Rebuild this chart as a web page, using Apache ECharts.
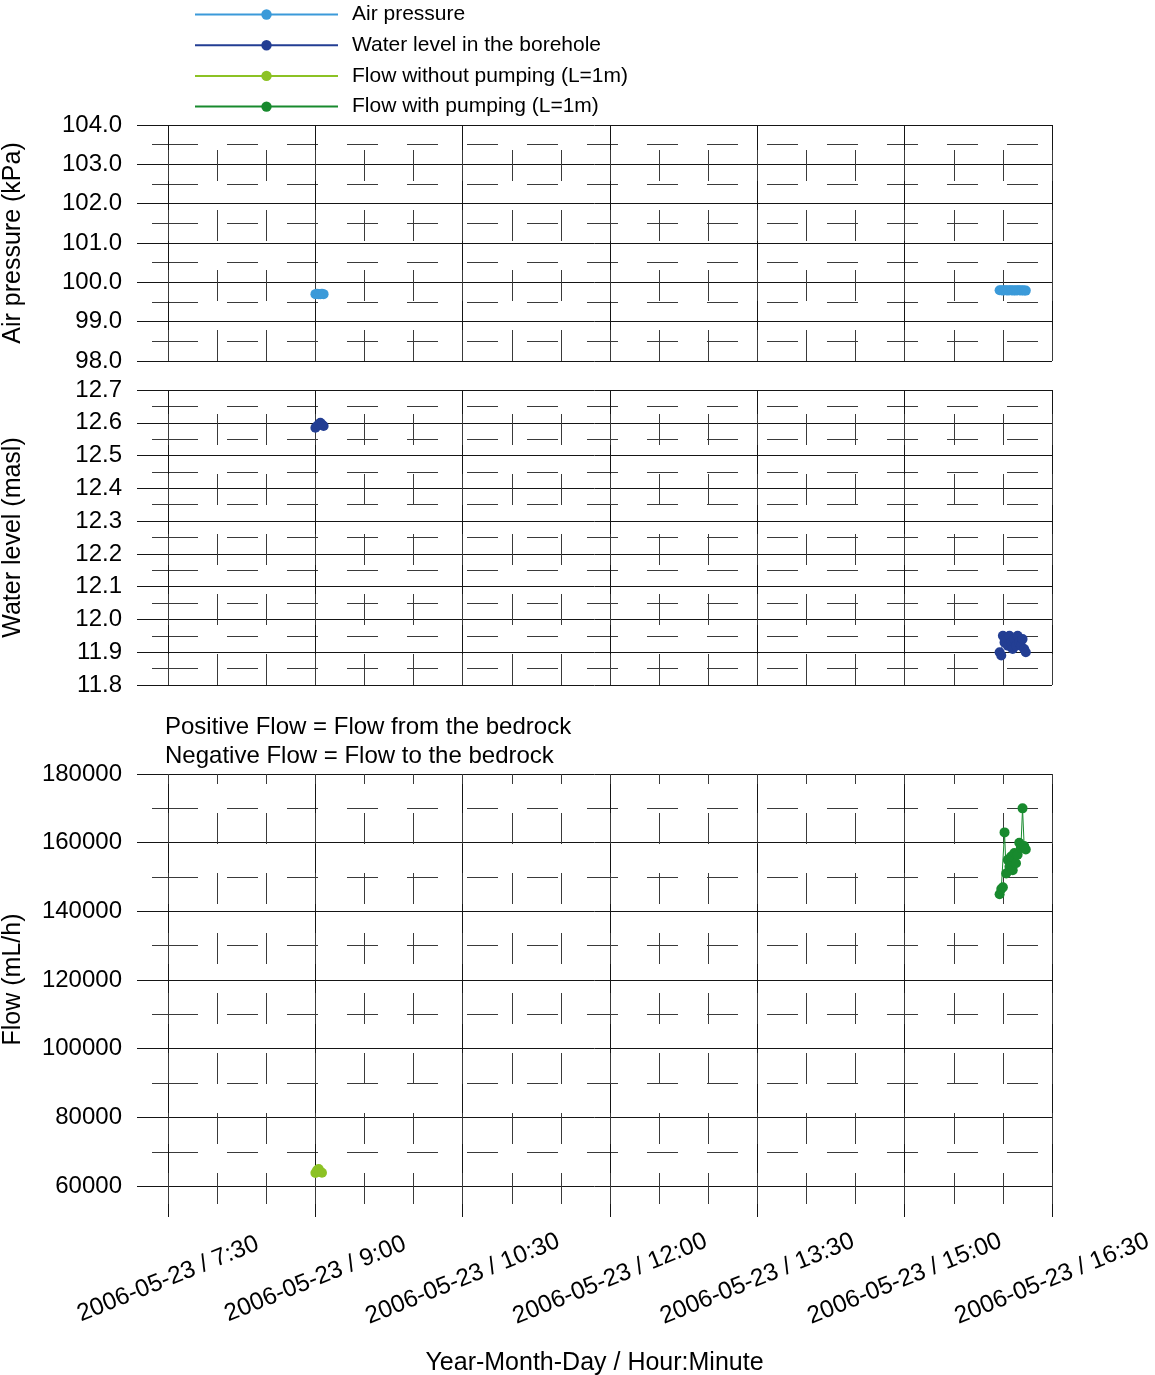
<!DOCTYPE html>
<html>
<head>
<meta charset="utf-8">
<script src="https://cdn.jsdelivr.net/npm/echarts@6/dist/echarts.min.js"></script>
<style>
html,body{margin:0;padding:0;background:#fff;}
#chart{width:1155px;height:1375px;}
</style>
</head>
<body>
<div id="chart"></div>
<script>
// ---- data (time in minutes since midnight, 2006-05-23) ----
const dateText = '2006-05-23';
const seriesNames = ['Air pressure', 'Water level in the borehole', 'Flow without pumping (L=1m)', 'Flow with pumping (L=1m)'];

const timesA = [540, 541, 542, 543, 544, 545];
const timesB = [958, 959, 960, 961, 962, 963, 964, 965, 966, 967, 968, 969, 970, 971, 972, 973, 974];

const airValuesA = [99.70, 99.71, 99.70, 99.70, 99.71, 99.70];
const airValuesB = [99.80, 99.80, 99.79, 99.80, 99.80, 99.79, 99.80, 99.80, 99.79, 99.80, 99.79, 99.80, 99.80, 99.79, 99.80, 99.79, 99.79];

const waterValuesA = [12.585, 12.59, 12.595, 12.60, 12.595, 12.59];
const waterValuesB = [11.90, 11.89, 11.95, 11.93, 11.94, 11.92, 11.95, 11.93, 11.91, 11.94, 11.92, 11.95, 11.93, 11.92, 11.94, 11.91, 11.90];

const flowNoPumpTimes = [540, 541, 542, 543, 544];
const flowNoPumpValues = [63800, 64600, 65000, 64200, 63900];

const flowPumpTimes = timesB;
const flowPumpValues = [145000, 146500, 147000, 163000, 151000, 155000, 153000, 156000, 152000, 157000, 154000, 156500, 160000, 158500, 170000, 159000, 158000];

// ---- ticks ----
const xMin = 431, xMax = 990;
const xTickValues = [450, 540, 630, 720, 810, 900, 990];            // 7:30 ... 16:30
const xMinorTickValues = [450, 480, 510, 540, 570, 600, 630, 660, 690, 720, 750, 780, 810, 840, 870, 900, 930, 960, 990];
const airAxis = {min: 98, max: 104, ticks: [98, 99, 100, 101, 102, 103, 104],
  minorTicks: [98.5, 99.5, 100.5, 101.5, 102.5, 103.5]};
const waterAxis = {min: 11.8, max: 12.7, ticks: [11.8, 11.9, 12.0, 12.1, 12.2, 12.3, 12.4, 12.5, 12.6, 12.7],
  minorTicks: [11.85, 11.95, 12.05, 12.15, 12.25, 12.35, 12.45, 12.55, 12.65]};
const flowAxis = {min: 51000, max: 180000, ticks: [60000, 80000, 100000, 120000, 140000, 160000, 180000],
  minorTicks: [70000, 90000, 110000, 130000, 150000, 170000]};

// ---- build ----
const FONT = 'Liberation Sans, Arial, sans-serif';
const pair = (t, v) => t.map((x, i) => [x, v[i]]);
const fmtTime = v => {
  const h = Math.floor(v / 60), m = Math.round(v % 60);
  return dateText + ' / ' + h + ':' + String(m).padStart(2, '0');
};

const grids = [
  {left: 137, top: 125, width: 915, height: 236, outerBoundsMode: 'none', containLabel: false},
  {left: 137, top: 390, width: 915, height: 295, outerBoundsMode: 'none', containLabel: false},
  {left: 137, top: 774, width: 915, height: 443, outerBoundsMode: 'none', containLabel: false}
];
const vDashOffsets = [35, 36, 21];

// horizontal minor dash pattern: gap, long first dash, then regular dashes
const hDash = [0, 15, 46, 29];
for (let i = 0; i < 15; i++) hDash.push(31, 29);

const majorLine = {color: '#151515', width: 1, type: 'solid'};
const minorLine = {color: '#3a3a3a', width: 1, type: [31, 29]};

const xAxes = [];
for (let g = 0; g < 3; g++) {
  xAxes.push({
    type: 'value', gridIndex: g, min: xMin, max: xMax,
    axisLine: {show: false}, axisTick: {show: false, customValues: xTickValues},
    axisLabel: g === 2 ? {
      show: true, interval: 0, rotate: 22, align: 'center', verticalAlign: 'middle',
      margin: 62, fontSize: 24.5, fontFamily: FONT, color: '#000',
      customValues: xTickValues, formatter: fmtTime
    } : {show: false, customValues: xTickValues},
    splitLine: {show: true, lineStyle: majorLine},
    name: g === 2 ? 'Year-Month-Day / Hour:Minute' : '',
    nameLocation: 'middle', nameGap: 134,
    nameTextStyle: {fontSize: 25, fontFamily: FONT, color: '#000'}
  });
}
for (let g = 0; g < 3; g++) {
  xAxes.push({
    type: 'value', gridIndex: g, min: xMin, max: xMax, position: 'bottom',
    axisLine: {show: false}, axisTick: {show: false, customValues: xMinorTickValues},
    axisLabel: {show: false, customValues: xMinorTickValues},
    splitLine: {show: true,
      lineStyle: Object.assign({}, minorLine, {dashOffset: vDashOffsets[g]})}
  });
}

const yDefs = [airAxis, waterAxis, flowAxis];
const yNames = ['Air pressure (kPa)', 'Water level (masl)', 'Flow (mL/h)'];
const yFmt = [v => v.toFixed(1), v => v.toFixed(1), v => String(Math.round(v))];
const yAxes = [];
for (let g = 0; g < 3; g++) {
  const d = yDefs[g];
  yAxes.push({
    type: 'value', gridIndex: g, min: d.min, max: d.max, position: 'left',
    axisLine: {show: false}, axisTick: {show: false, customValues: d.ticks},
    axisLabel: {show: true, margin: 15, fontSize: 24, fontFamily: FONT, color: '#000',
      customValues: d.ticks, formatter: yFmt[g]},
    splitLine: {show: true, lineStyle: majorLine},
    name: yNames[g], nameLocation: 'middle', nameRotate: 90, nameGap: 111,
    nameTextStyle: {fontSize: 25, fontFamily: FONT, color: '#000',
      padding: g === 2 ? [0, 0, 0, 32] : 0}
  });
}
for (let g = 0; g < 3; g++) {
  const d = yDefs[g];
  yAxes.push({
    type: 'value', gridIndex: g, min: d.min, max: d.max, position: 'left',
    axisLine: {show: false}, axisTick: {show: false, customValues: d.minorTicks},
    axisLabel: {show: false, customValues: d.minorTicks},
    splitLine: {show: true, lineStyle: {color: '#3a3a3a', width: 1, type: hDash, dashOffset: 0}}
  });
}

const C_AIR = '#3b9ad9', C_WATER = '#233e93', C_NOPUMP = '#8cc224', C_PUMP = '#188a2e';
const mk = (name, data, xi, color, lw) => ({
  type: 'line', name, data, xAxisIndex: xi, yAxisIndex: xi,
  symbol: 'circle', symbolSize: 10, showSymbol: true,
  lineStyle: {color, width: lw}, itemStyle: {color},
  animation: false, clip: true
});

const series = [
  mk(seriesNames[0], pair(timesA, airValuesA), 0, C_AIR, 2.5),
  mk(seriesNames[0], pair(timesB, airValuesB), 0, C_AIR, 2.5),
  mk(seriesNames[1], pair(timesA, waterValuesA), 1, C_WATER, 1),
  mk(seriesNames[1], pair(timesB, waterValuesB), 1, C_WATER, 1),
  mk(seriesNames[2], pair(flowNoPumpTimes, flowNoPumpValues), 2, C_NOPUMP, 1),
  mk(seriesNames[3], pair(flowPumpTimes, flowPumpValues), 2, C_PUMP, 1)
];

const chart = echarts.init(document.getElementById('chart'), null, {renderer: 'canvas'});
chart.setOption({
  backgroundColor: '#fff',
  animation: false,
  textStyle: {fontFamily: FONT},
  title: {
    text: 'Positive Flow = Flow from the bedrock\nNegative Flow = Flow to the bedrock',
    left: 160, top: 713, padding: [0, 0, 0, 5],
    textStyle: {fontSize: 24, fontWeight: 'normal', fontFamily: FONT, color: '#000', lineHeight: 29}
  },
  legend: {
    orient: 'vertical', left: 189, top: -1,
    itemWidth: 143, itemHeight: 13, itemGap: 9.7,
    selectedMode: false,
    data: seriesNames,
    textStyle: {fontSize: 21, fontFamily: FONT, color: '#000', lineHeight: 21, padding: [0, 0, 0, 9]}
  },
  grid: grids,
  xAxis: xAxes,
  yAxis: yAxes,
  series
});
</script>
</body>
</html>
